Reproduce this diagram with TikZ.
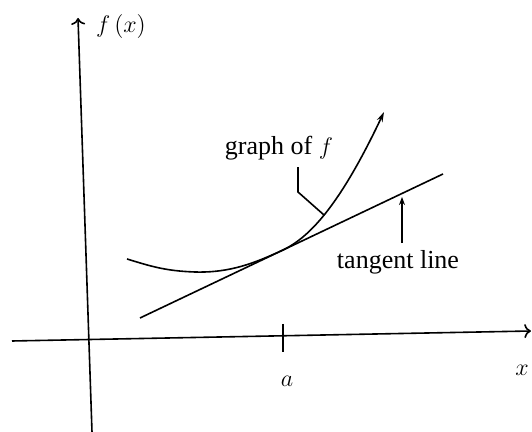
\documentclass[tikz,border=0pt]{standalone}
\usepackage{fontspec}
\setmainfont{Liberation Serif}
\usepackage{amssymb, amsmath}
\usetikzlibrary{arrows.meta}

\begin{document}
\begin{tikzpicture}[font=\fontsize{13}{15}\selectfont]
\begin{scope}[x=0.5pt, y=-0.5pt]
\useasboundingbox (0,0) rectangle (532,432);

% axes
\coordinate (xl) at (12,341);
\coordinate (xr) at (531,331);
\coordinate (yb) at (92,432);
\coordinate (yt) at (78,18);
\draw[thick, ->](xl)to(xr);
\draw[thick, ->](yb)to(yt);
\node (fx) at (121,27) {$f\,(x)$};
\node (xlab) at (522,370) {$x$};

% point a
\coordinate (a1) at (283,324);
\coordinate (a2) at (283,352);
\draw[thick](a1)to(a2);
\node (alab) at (287,381) {$a$};

% tangent line
\coordinate (t1) at (140,318);
\coordinate (t2) at (443,174);
\draw[thick](t1)to(t2);

% graph of f
\coordinate (c0) at (127,259);
\coordinate (c1) at (195,272);
\coordinate (p) at (283,250);
\coordinate (c2) at (384,112);
\draw[thick, -{Stealth[length=5pt, width=3pt]}](c0) .. controls (150,266) and (165,271) .. (c1)
  .. controls (230,273) and (255,263) .. (p)
  .. controls (310,237) and (340,205) .. (c2);

% labels with pointers
\node (gf) at (279,148) {graph of $f$};
\coordinate (gk) at (298,192);
\coordinate (gp) at (324,215);
\draw[thick](gf.south -| gk)to(gk)to(gp);

\node (tn) at (398,262) {tangent line};
\coordinate (tk) at (402,197);
\draw[thick, -{Stealth[length=4pt, width=3pt]}](tn.north -| tk)to(tk);

\end{scope}
\end{tikzpicture}
\end{document}
